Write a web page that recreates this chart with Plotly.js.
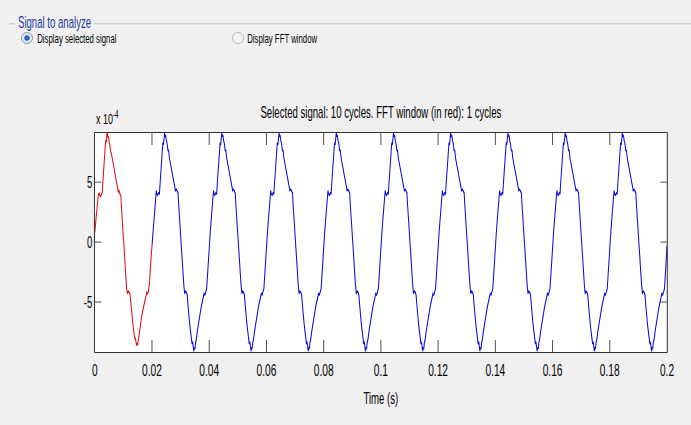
<!DOCTYPE html>
<html>
<head>
<meta charset="utf-8">
<script src="https://cdn.plot.ly/plotly-3.0.1.min.js"></script>
<style>
  html, body { margin: 0; padding: 0; background: #f0f0f0; overflow: hidden; width: 691px; height: 425px; }
  #wrap { position: absolute; left: 0; top: 0; width: 1152px; height: 425px; transform-origin: 0 0; }
</style>
</head>
<body>
<div id="wrap"><div id="chart" style="width:1152px;height:425px;"></div></div>
<script>
// ---- data ----
// one cycle's sample offsets (ms) within each 20 ms period
const cycleOffsetsMs = [0, 0.3, 0.6, 0.9, 1.2, 1.5, 1.7, 2.0, 2.3, 2.6, 2.8, 3.1, 3.4, 3.6, 3.8, 4.0, 4.2, 4.4, 4.6, 4.8, 5.0, 5.3, 5.6, 5.8, 6.1, 6.4, 6.7, 7.0, 7.3, 7.6, 7.9, 8.2, 8.5, 8.8, 9.1, 9.3, 9.6, 9.9, 10.2, 10.5, 10.8, 11.1, 11.4, 11.7, 12.0, 12.3, 12.6, 12.9, 13.2, 13.5, 13.8, 14.0, 14.2, 14.4, 14.6, 14.8, 15.0, 15.2, 15.5, 15.8, 16.1, 16.4, 16.7, 17.0, 17.3, 17.6, 17.9, 18.2, 18.5, 18.8, 19.1, 19.4, 19.7];
// FFT window cycle (red), values in units of 1e-4
const fftWindowValues = [0.8, 1.6, 2.4, 3.2, 3.9, 4.1, 3.9, 3.8, 4.0, 4.1, 4.9, 6.0, 7.1, 7.8, 8.5, 8.3, 9.0, 9.1, 8.7, 8.8, 8.4, 8.1, 7.5, 7.4, 7.0, 6.5, 6.0, 5.6, 5.2, 4.9, 4.5, 4.2, 4.3, 4.0, 3.9, 3.0, 1.8, 0.7, -0.3, -1.5, -2.8, -3.8, -4.3, -4.1, -4.2, -4.3, -5.0, -5.9, -6.6, -7.2, -7.7, -8.1, -8.0, -8.4, -8.6, -8.5, -8.6, -8.2, -7.7, -7.0, -6.6, -6.2, -5.8, -5.4, -5.1, -4.8, -4.5, -4.2, -4.3, -4.1, -3.5, -2.2, -1.2];
// selected signal cycle (blue), repeated over the remaining cycles
const signalCycleValues = [-0.3, 0.6, 1.6, 2.5, 3.4, 4.3, 4.0, 3.9, 4.1, 4.0, 4.8, 5.9, 7.0, 7.5, 8.3, 8.1, 8.9, 9.1, 8.8, 8.9, 8.5, 8.2, 7.6, 7.7, 7.0, 6.6, 6.1, 5.8, 5.3, 5.0, 4.6, 4.3, 4.4, 4.2, 4.1, 3.2, 2.0, 0.9, -0.2, -1.2, -2.4, -3.5, -4.3, -4.1, -4.2, -4.4, -5.3, -6.2, -6.9, -7.5, -8.0, -8.5, -8.3, -8.9, -9.1, -8.8, -8.9, -8.4, -8.1, -7.5, -7.0, -6.5, -6.2, -5.7, -5.3, -5.0, -4.6, -4.3, -4.4, -4.2, -3.9, -2.8, -1.5];
const cyclePeriodMs = 20;
const numCycles = 10;
const xTickVals = [0, 0.02, 0.04, 0.06, 0.08, 0.1, 0.12, 0.14, 0.16, 0.18, 0.2];
const yTickVals = [-5, 0, 5];
const yTickText = ['-5', '0', '5'];
const titleText = 'Selected signal: 10 cycles. FFT window (in red): 1 cycles';
const xTitle = 'Time (s)';

// ---- build series ----
const redX = [], redY = [];
cycleOffsetsMs.forEach((o, i) => { redX.push(o / 1000); redY.push(fftWindowValues[i]); });
redX.push(cyclePeriodMs / 1000); redY.push(signalCycleValues[0]);

const blueX = [], blueY = [];
for (let k = 1; k < numCycles; k++) {
  cycleOffsetsMs.forEach((o, i) => { blueX.push((k * cyclePeriodMs + o) / 1000); blueY.push(signalCycleValues[i]); });
}
blueX.push(numCycles * cyclePeriodMs / 1000); blueY.push(signalCycleValues[0]);

// ---- geometry (screenshot is horizontally compressed) ----
const W = 1152, H = 425;
const S = 691 / W;
document.getElementById('wrap').style.transform = 'scaleX(' + S + ')';
const ml = 158, mr = 40, mt = 133, mb = 73;
const pw = W - ml - mr, ph = H - mt - mb;
const fx = x => (x / S - ml) / pw;           // final px -> paper x
const fy = y => (H - mb - y) / ph;           // final px -> paper y

const FONT = 'Liberation Sans, Arial, sans-serif';

const shapes = [
  // group box line
  {type: 'line', xref: 'paper', yref: 'paper', x0: fx(9), x1: fx(15), y0: fy(24), y1: fy(24), line: {color: '#a0a0a0', width: 1}},
  {type: 'line', xref: 'paper', yref: 'paper', x0: fx(9), x1: fx(15), y0: fy(25), y1: fy(25), line: {color: '#ffffff', width: 1}},
  {type: 'line', xref: 'paper', yref: 'paper', x0: fx(93), x1: fx(691), y0: fy(24), y1: fy(24), line: {color: '#a0a0a0', width: 1}},
  {type: 'line', xref: 'paper', yref: 'paper', x0: fx(93), x1: fx(691), y0: fy(25), y1: fy(25), line: {color: '#ffffff', width: 1}},
  // radio 1 (selected)
  {type: 'circle', xref: 'paper', yref: 'paper', x0: fx(21.5), x1: fx(32.5), y0: fy(43.5), y1: fy(32.5), fillcolor: '#dfe8f3', line: {color: '#7f8a99', width: 1}},
  {type: 'circle', xref: 'paper', yref: 'paper', x0: fx(24.5), x1: fx(29.5), y0: fy(40.5), y1: fy(35.5), fillcolor: '#2f62c4', line: {color: '#1f4aa0', width: 0.5}},
  // radio 2 (not selected)
  {type: 'circle', xref: 'paper', yref: 'paper', x0: fx(232.5), x1: fx(243.5), y0: fy(43.5), y1: fy(32.5), fillcolor: '#f3f3f3', line: {color: '#a9a9a9', width: 1}}
];

const annotations = [
  {text: 'Signal to analyze', xref: 'paper', yref: 'paper', x: fx(17), y: fy(22), xanchor: 'left', yanchor: 'middle', showarrow: false, font: {family: FONT, size: 16, color: '#24389c'}},
  {text: 'Display selected signal', xref: 'paper', yref: 'paper', x: fx(36), y: fy(38), xanchor: 'left', yanchor: 'middle', showarrow: false, font: {family: FONT, size: 13, color: '#000'}},
  {text: 'Display FFT window', xref: 'paper', yref: 'paper', x: fx(246), y: fy(38), xanchor: 'left', yanchor: 'middle', showarrow: false, font: {family: FONT, size: 13, color: '#000'}},
  {text: 'x 10<sup>-4</sup>', xref: 'paper', yref: 'paper', x: fx(95), y: fy(118), xanchor: 'left', yanchor: 'middle', showarrow: false, font: {family: FONT, size: 15, color: '#000'}}
];

const traces = [
  {x: blueX, y: blueY, type: 'scatter', mode: 'lines', line: {color: '#0a0ad8', width: 1.7}, hoverinfo: 'skip'},
  {x: redX, y: redY, type: 'scatter', mode: 'lines', line: {color: '#e01010', width: 1.7}, hoverinfo: 'skip'}
];

const layout = {
  width: W, height: H,
  margin: {l: ml, r: mr, t: mt, b: mb, pad: 0},
  paper_bgcolor: '#f0f0f0', plot_bgcolor: '#ffffff',
  showlegend: false,
  font: {family: FONT, color: '#000'},
  title: {text: titleText, font: {family: FONT, size: 16, color: '#000'}, x: 0.5, xref: 'paper', y: 1 - 112 / H, yref: 'container', yanchor: 'middle'},
  xaxis: {
    range: [0, 0.2], tickvals: xTickVals, ticks: 'inside', ticklen: 12, tickwidth: 1, tickcolor: '#222',
    showline: true, linecolor: '#000', linewidth: 1, mirror: 'ticks', showgrid: false, zeroline: false,
    tickfont: {family: FONT, size: 17, color: '#000'}, ticklabelstandoff: 3,
    title: {text: xTitle, font: {family: FONT, size: 16, color: '#000'}, standoff: 13}
  },
  yaxis: {
    range: [-9.17, 9.1], tickvals: yTickVals, ticktext: yTickText, ticks: 'inside', ticklen: 11, tickwidth: 1, tickcolor: '#222',
    showline: true, linecolor: '#000', linewidth: 1, mirror: 'ticks', showgrid: false, zeroline: false,
    tickfont: {family: FONT, size: 16, color: '#000'}
  },
  shapes: shapes,
  annotations: annotations
};

Plotly.newPlot('chart', traces, layout, {displayModeBar: false, staticPlot: true});
</script>
</body>
</html>
